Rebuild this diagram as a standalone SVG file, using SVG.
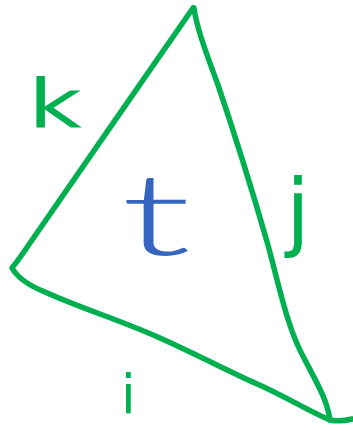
<svg xmlns="http://www.w3.org/2000/svg" width="353" height="431" viewBox="0 0 353 431">
<style>
.edge{fill:none;stroke:#00B050;stroke-width:5.5;stroke-linecap:round;stroke-linejoin:round}
.lbl{font-family:"DejaVu Sans","Liberation Sans",sans-serif;fill:#00B050}
.face{font-family:Lato,"DejaVu Sans",sans-serif;font-weight:300;fill:#3565BE}
</style>
<rect width="353" height="431" fill="#ffffff"/>
<g id="connectors">
<path class="edge" d="M193,8 C150,70 70,185 30,243 Q20,258 12,268 Q20,282 45,292 C80,308 120,320 160,338 C200,356 230,372 255,383 C285,396 310,412 330,420 Q340,422 352,419"/>
<path class="edge" d="M194,8 C196,25 205,50 218,85 C235,135 255,200 268,245 C280,290 288,330 305,360 C318,385 327,400 330,420"/>
</g>
<g id="edge-k"><text class="lbl" x="28" y="128" font-size="68" textLength="54" lengthAdjust="spacingAndGlyphs">k</text></g>
<g id="edge-j"><text class="lbl" x="286" y="240" font-size="86">j</text></g>
<g id="edge-i"><text class="lbl" x="121" y="413" font-size="53">i</text></g>
<g id="face-t"><text class="face" x="121" y="255" font-size="115" textLength="70" lengthAdjust="spacingAndGlyphs">t</text></g>
</svg>
